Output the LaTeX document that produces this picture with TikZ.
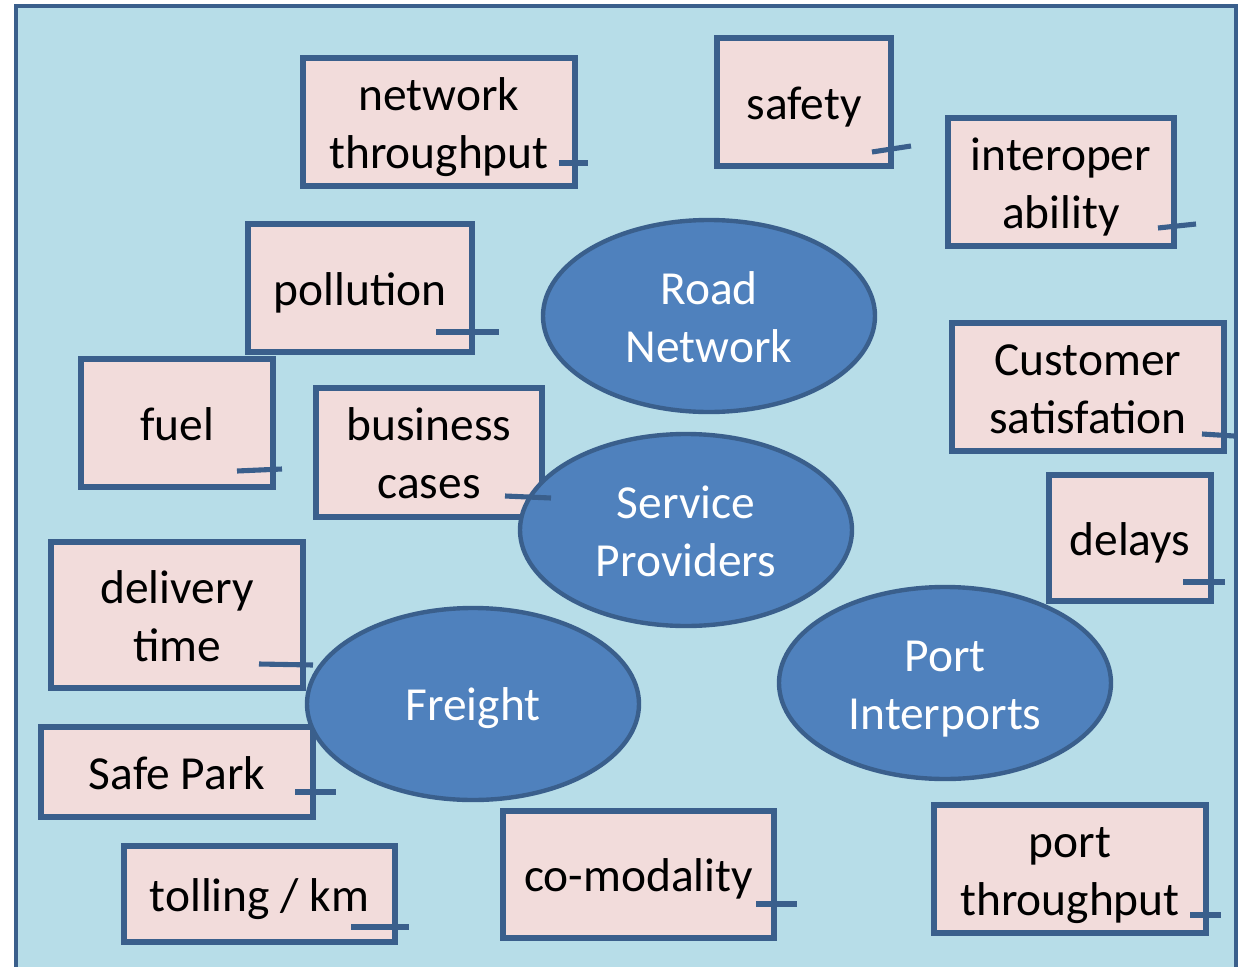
\documentclass[tikz,border=0pt]{standalone}
\usepackage{fontspec}
\setmainfont{Carlito}
\usetikzlibrary{shapes.geometric,calc}
\definecolor{bgblue}{HTML}{B7DDE8}
\definecolor{edgeblue}{HTML}{3A5F8C}
\definecolor{boxpink}{HTML}{F2DCDB}
\definecolor{ellblue}{HTML}{4F81BD}
\def\u{0.02cm}
\newcommand\bt[2]{\raisebox{-#1}[\height][\depth]{\begin{tabular}{@{}c@{}}#2\end{tabular}}}
\tikzset{
  box/.style={draw=edgeblue, fill=boxpink, line width=2.9pt, rectangle, inner sep=0pt, outer sep=0pt,
    font=\fontsize{27}{33}\selectfont, text=black},
  oval/.style={draw=edgeblue, fill=ellblue, line width=2.5pt, ellipse, inner sep=0pt, outer sep=0pt,
    minimum width=332*\u, minimum height=192*\u,
    font=\fontsize{27}{33}\selectfont, text=white},
  tick/.style={draw=edgeblue, line width=2.9pt}
}
\begin{document}
\begin{tikzpicture}[x=\u, y=-\u]
\useasboundingbox (0,0) rectangle (1245,967);
\fill[white] (0,0) rectangle (1245,967);
\fill[bgblue] (16,6) rectangle (1236,967);
\draw[edgeblue, line width=2pt] (16,967) -- (16,6) -- (1236,6) -- (1236,967);

% boxes
\node[box, minimum width=272*\u, minimum height=128*\u] (nt) at (439,122) {\bt{0.11cm}{network\\throughput}};
\node[box, minimum width=174*\u, minimum height=128*\u] (sf) at (804,102) {\bt{0.11cm}{safety}};
\node[box, minimum width=226*\u, minimum height=128*\u] (io) at (1061,182) {\bt{0.11cm}{interoper\\ability}};
\node[box, minimum width=224*\u, minimum height=128*\u] (po) at (360,288) {\bt{0.11cm}{pollution}};
\node[box, minimum width=192*\u, minimum height=128*\u] (fu) at (177,423) {\bt{0.11cm}{fuel}};
\node[box, minimum width=226*\u, minimum height=129*\u] (bc) at (429,452.5) {\bt{0.11cm}{business\\cases}};
\node[box, minimum width=272*\u, minimum height=128*\u] (cs) at (1088,387) {\bt{0.11cm}{Customer\\satisfation}};
\node[box, minimum width=162*\u, minimum height=126*\u] (de) at (1130,538) {\bt{0.11cm}{delays}};
\node[box, minimum width=252*\u, minimum height=146*\u] (dt) at (177,615) {\bt{0.11cm}{delivery\\time}};
\node[box, minimum width=272*\u, minimum height=90*\u] (sp) at (177,772) {\bt{0.11cm}{Safe Park}};
\node[box, minimum width=271*\u, minimum height=96*\u] (tk) at (259.5,894) {\bt{0.11cm}{tolling / km}};
\node[box, minimum width=271*\u, minimum height=127*\u] (cm) at (638.5,874.5) {\bt{0.11cm}{co-modality}};
\node[box, minimum width=272*\u, minimum height=128*\u] (pt) at (1070,869) {\bt{0.11cm}{port\\throughput}};

% ellipses
\node[oval] (rn) at (709,316) {\bt{0.11cm}{Road\\Network}};
\node[oval] (svc) at (686,530) {\bt{0.11cm}{Service\\Providers}};
\node[oval] (fr) at (473,704) {\bt{0.1cm}{Freight}};
\node[oval] (pi) at (945,683) {\bt{0.11cm}{Port\\Interports}};

% ticks
\draw[tick] ($(nt.south east)+(-16,-23)$) -- ($(nt.south east)+(13,-23)$);
\draw[tick] ($(sf.south east)+(-19,-14)$) -- ($(sf.south east)+(20,-20)$);
\draw[tick] ($(io.south east)+(-16,-18)$) -- ($(io.south east)+(22,-22)$);
\draw[tick] ($(po.south east)+(-36,-20)$) -- ($(po.south east)+(27,-20)$);
\draw[tick] ($(fu.south east)+(-36,-16)$) -- ($(fu.south east)+(9,-18)$);
\draw[tick] ($(bc.south east)+(-37,-21)$) -- ($(bc.south east)+(9,-19)$);
\draw[tick] ($(cs.south east)+(-22,-17)$) -- ($(cs.south east)+(10,-15)$);
\draw[tick] ($(de.south east)+(-28,-19)$) -- ($(de.south east)+(14,-19)$);
\draw[tick] ($(dt.south east)+(-44,-24)$) -- ($(dt.south east)+(10,-23)$);
\draw[tick] ($(sp.south east)+(-18,-25)$) -- ($(sp.south east)+(23,-25)$);
\draw[tick] ($(tk.south east)+(-44,-15)$) -- ($(tk.south east)+(14,-15)$);
\draw[tick] ($(cm.south east)+(-18,-34)$) -- ($(cm.south east)+(23,-34)$);
\draw[tick] ($(pt.south east)+(-16,-18)$) -- ($(pt.south east)+(15,-18)$);
\end{tikzpicture}
\end{document}
